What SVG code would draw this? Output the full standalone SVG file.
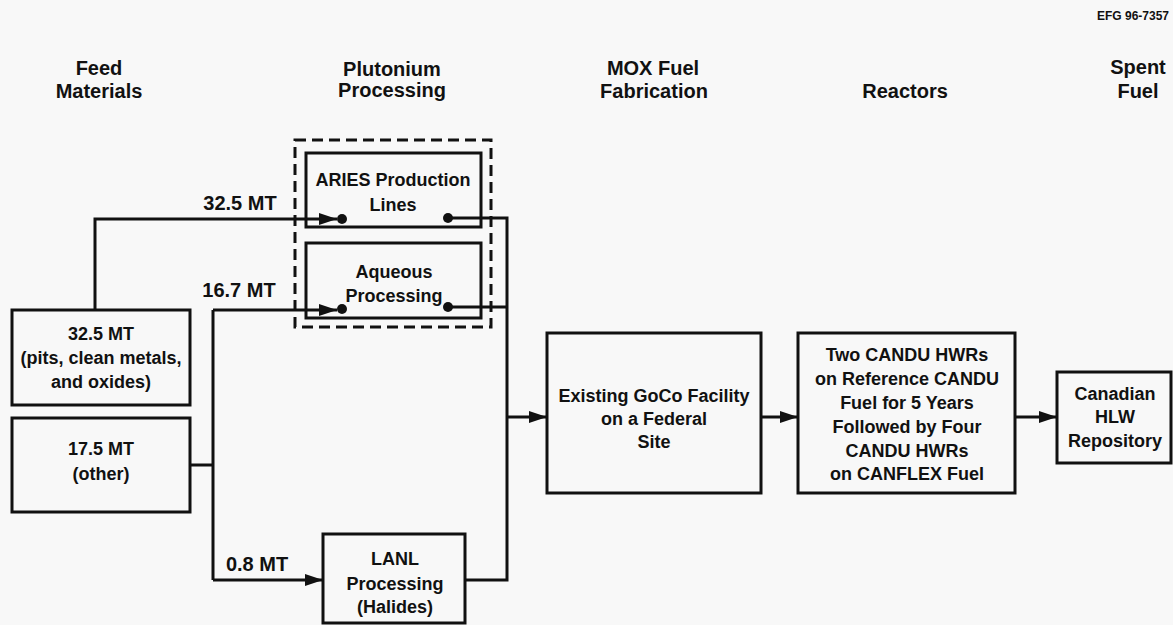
<svg xmlns="http://www.w3.org/2000/svg" width="1173" height="625" viewBox="0 0 1173 625">
<defs>
<style>
text{font-family:"Liberation Sans",Arial,Helvetica,sans-serif;font-weight:bold;fill:#111;text-anchor:middle}
.h{font-size:20px}
.b{font-size:18px}
.l{font-size:20px}
.id{font-size:12px}
.box{fill:none;stroke:#111;stroke-width:3}
.dash{fill:none;stroke:#111;stroke-width:3;stroke-dasharray:11 6}
.ln{fill:none;stroke:#111;stroke-width:3}
.dot{fill:#111}
</style>
<marker id="ah" markerUnits="userSpaceOnUse" markerWidth="20" markerHeight="14" refX="18" refY="7" orient="auto">
<path d="M0,1 L18,7 L0,13 Z" fill="#111"/>
</marker>
</defs>
<rect width="1173" height="625" fill="#f8f8f8"/>
<text class="id" x="1133" y="20">EFG 96-7357</text>
<g id="headers">
<text class="h" x="99" y="75">Feed</text>
<text class="h" x="99" y="98">Materials</text>
<text class="h" x="392" y="76">Plutonium</text>
<text class="h" x="392" y="97">Processing</text>
<text class="h" x="653" y="75">MOX Fuel</text>
<text class="h" x="654" y="98">Fabrication</text>
<text class="h" x="905" y="98">Reactors</text>
<text class="h" x="1138" y="74">Spent</text>
<text class="h" x="1138" y="98">Fuel</text>
</g>
<g id="pu-group">
<rect class="dash" x="295" y="140" width="196" height="187"/>
</g>
<g id="feed1">
<rect class="box" x="12" y="310" width="178" height="95"/>
<text class="b" x="101" y="340">32.5 MT</text>
<text class="b" x="101" y="364">(pits, clean metals,</text>
<text class="b" x="101" y="388">and oxides)</text>
</g>
<g id="feed2">
<rect class="box" x="12" y="418" width="178" height="94"/>
<text class="b" x="101" y="455">17.5 MT</text>
<text class="b" x="101" y="480">(other)</text>
</g>
<g id="aries">
<rect class="box" x="306" y="153" width="175" height="74"/>
<text class="b" x="393" y="186">ARIES Production</text>
<text class="b" x="393" y="211">Lines</text>
</g>
<g id="aqueous">
<rect class="box" x="306" y="243" width="175" height="75"/>
<text class="b" x="394" y="278">Aqueous</text>
<text class="b" x="394" y="302">Processing</text>
</g>
<g id="lanl">
<rect class="box" x="323" y="534" width="142" height="89"/>
<text class="b" x="395" y="565">LANL</text>
<text class="b" x="395" y="590">Processing</text>
<text class="b" x="395" y="613">(Halides)</text>
</g>
<g id="mox">
<rect class="box" x="547" y="333" width="214" height="160"/>
<text class="b" x="654" y="402">Existing GoCo Facility</text>
<text class="b" x="654" y="425">on a Federal</text>
<text class="b" x="654" y="448">Site</text>
</g>
<g id="reactors">
<rect class="box" x="798" y="333" width="217" height="160"/>
<text class="b" x="907" y="361">Two CANDU HWRs</text>
<text class="b" x="907" y="385">on Reference CANDU</text>
<text class="b" x="907" y="409">Fuel for 5 Years</text>
<text class="b" x="907" y="433">Followed by Four</text>
<text class="b" x="907" y="457">CANDU HWRs</text>
<text class="b" x="907" y="480">on CANFLEX Fuel</text>
</g>
<g id="repository">
<rect class="box" x="1057" y="372" width="114" height="91"/>
<text class="b" x="1115" y="400">Canadian</text>
<text class="b" x="1115" y="423">HLW</text>
<text class="b" x="1115" y="447">Repository</text>
</g>
<g id="connectors">
<polyline class="ln" points="95,310 95,219 337,219" marker-end="url(#ah)"/>
<circle class="dot" cx="342" cy="219" r="5"/>
<polyline class="ln" points="190,465 213,465"/>
<polyline class="ln" points="213,310 213,580"/>
<polyline class="ln" points="213,310 337,310" marker-end="url(#ah)"/>
<circle class="dot" cx="342" cy="309" r="5"/>
<polyline class="ln" points="213,580 323,580" marker-end="url(#ah)"/>
<circle class="dot" cx="448" cy="218" r="5"/>
<polyline class="ln" points="448,218 507,218 507,580 465,580"/>
<circle class="dot" cx="448" cy="307" r="5"/>
<polyline class="ln" points="448,307 507,307"/>
<polyline class="ln" points="507,417 547,417" marker-end="url(#ah)"/>
<polyline class="ln" points="761,417 798,417" marker-end="url(#ah)"/>
<polyline class="ln" points="1015,417 1057,417" marker-end="url(#ah)"/>
</g>
<g id="labels">
<text class="l" x="240" y="210">32.5 MT</text>
<text class="l" x="239" y="297">16.7 MT</text>
<text class="l" x="257" y="571">0.8 MT</text>
</g>
</svg>
